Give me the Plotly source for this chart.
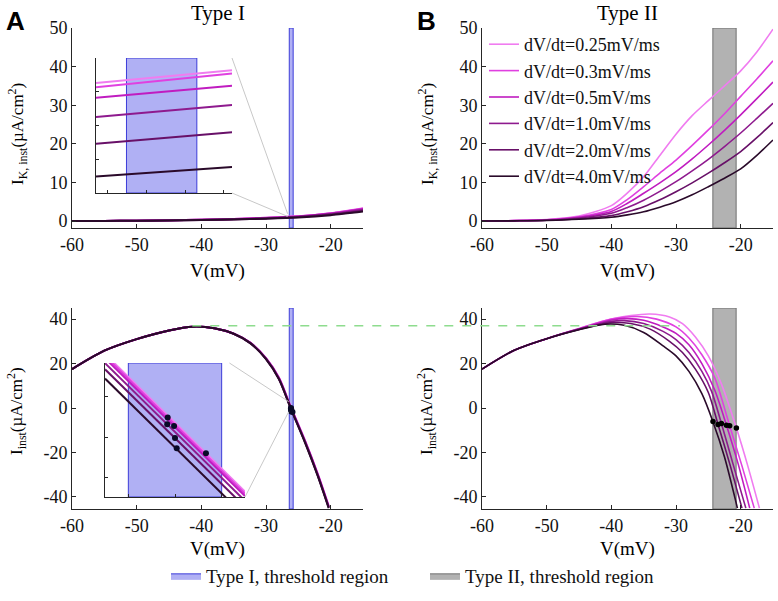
import plotly.graph_objects as go

# ---------------- data ----------------
rates = ["dV/dt=0.25mV/ms", "dV/dt=0.3mV/ms", "dV/dt=0.5mV/ms",
         "dV/dt=1.0mV/ms", "dV/dt=2.0mV/ms", "dV/dt=4.0mV/ms"]
colors = ["#f07cf0", "#e040e0", "#c01cc0", "#8e1a8e", "#681068", "#2a0a2a"]

# Type I, I_K,inst
V_k = [-60, -55, -50, -45, -40, -35, -30, -25, -20, -15]
IK_typeI = [
    [0.00, 0.04, 0.10, 0.20, 0.35, 0.55, 0.85, 1.25, 2.05, 3.35],
    [0.00, 0.04, 0.10, 0.20, 0.34, 0.54, 0.83, 1.22, 2.00, 3.25],
    [0.00, 0.04, 0.09, 0.19, 0.33, 0.52, 0.80, 1.18, 1.93, 3.10],
    [0.00, 0.03, 0.09, 0.18, 0.31, 0.49, 0.75, 1.12, 1.82, 2.92],
    [0.00, 0.03, 0.08, 0.16, 0.28, 0.45, 0.69, 1.03, 1.68, 2.70],
    [0.00, 0.03, 0.07, 0.14, 0.25, 0.40, 0.62, 0.93, 1.52, 2.45],
]
# Type I, I_K,inst inset (zoom near threshold)
V_insetK = [-26.66, -25.50]
IK_insetK = [
    [1.126, 1.164],
    [1.113, 1.154],
    [1.082, 1.118],
    [1.025, 1.061],
    [0.946, 0.980],
    [0.849, 0.877],
]

# Type II, I_K,inst
V_k2 = [-60, -55, -50, -45, -40, -37.5, -35, -32.5, -30, -27.5, -25, -22.5, -20, -17.5, -15]
IK_typeII = [
    [0, 0.10, 0.40, 1.30, 4.0, 7.3, 11.5, 17.0, 22.5, 27.3, 31.2, 35.0, 38.9, 43.8, 49.7],
    [0, 0.10, 0.35, 1.10, 3.0, 5.6, 8.9, 12.4, 15.8, 19.6, 23.6, 27.8, 32.3, 36.8, 41.5],
    [0, 0.10, 0.30, 1.00, 2.5, 4.6, 7.2, 9.9, 12.8, 16.1, 19.7, 23.5, 27.5, 31.7, 36.0],
    [0, 0.08, 0.25, 0.80, 2.0, 3.5, 5.4, 7.7, 10.2, 13.0, 16.0, 19.3, 22.8, 26.6, 30.5],
    [0, 0.06, 0.20, 0.60, 1.4, 2.4, 3.7, 5.5, 7.6, 9.9, 12.4, 15.1, 18.0, 21.6, 25.5],
    [0, 0.05, 0.15, 0.45, 1.0, 1.6, 2.4, 3.6, 5.0, 6.8, 8.9, 11.1, 13.5, 17.0, 21.0],
]

# Type I, I_inst
V_instI = [-60, -55, -50, -45, -41.3, -38, -35, -32.4, -30, -28, -26.2, -24, -22, -20.3]
Iinst_typeI = [
    [17.5, 25.8, 31.0, 34.9, 36.6, 35.9, 33.5, 29.4, 22.5, 13.7, 0.8, -14.3, -29.5, -44.0],
    [17.5, 25.8, 31.0, 34.9, 36.6, 35.9, 33.5, 29.3, 22.4, 13.6, 0.7, -14.5, -29.7, -44.2],
    [17.5, 25.8, 31.0, 34.9, 36.6, 35.9, 33.5, 29.3, 22.3, 13.4, 0.5, -14.7, -29.9, -44.4],
    [17.5, 25.8, 31.0, 34.9, 36.6, 35.9, 33.4, 29.2, 22.2, 13.3, 0.3, -14.9, -30.1, -44.6],
    [17.5, 25.8, 31.0, 34.9, 36.6, 35.9, 33.4, 29.2, 22.1, 13.1, 0.2, -15.1, -30.3, -44.8],
    [17.5, 25.8, 31.0, 34.9, 36.6, 35.9, 33.4, 29.1, 22.0, 13.0, 0.0, -15.3, -30.5, -45.0],
]
# Type I, I_inst inset
V_insetI = [-26.55, -25.65]
Iinst_insetI = [
    [3.12, -3.70],
    [3.03, -3.80],
    [2.91, -3.92],
    [2.66, -4.16],
    [2.36, -4.46],
    [1.90, -4.93],
]
thr_V_I = [-25.901, -26.147, -26.106, -26.15, -26.10, -26.089]
thr_I_I = [-1.80, -0.03, -0.45, -0.36, -1.05, -1.55]

# Type II, I_inst
V_instII = [
    [-60, -55, -50, -45, -40, -37, -34, -31, -29, -27, -25, -23, -20.66, -18.9, -17.1],
    [-60, -55, -50, -45, -40, -36, -33, -30, -28, -26, -24, -21.7, -19.8, -17.9],
    [-60, -55, -50, -45, -40, -37.5, -35, -32, -30, -28, -26, -24, -22.2, -20.4, -18.6],
    [-60, -55, -50, -45, -40, -38, -35, -32, -30, -28, -26, -24.5, -22.98, -21.2, -19.2],
    [-60, -55, -50, -45, -40, -37, -34, -31, -29, -27, -25, -23.5, -21.7, -19.8],
    [-60, -55, -50, -45, -41, -38, -35, -32, -30, -28, -26, -24.3, -22.5, -20.5],
]
Iinst_typeII = [
    [17.5, 26, 31.2, 35.8, 40.0, 41.6, 42.3, 41.0, 38.0, 32.0, 23.5, 11.0, -9.0, -26, -45],
    [17.5, 26, 31.2, 35.7, 40.0, 41.2, 40.0, 36.5, 31.5, 24.0, 13.5, -8.0, -26, -45],
    [17.5, 26, 31.2, 35.6, 39.6, 40.2, 39.5, 36.5, 33.6, 28.5, 20.0, 8.0, -7.7, -25, -45],
    [17.5, 26, 31.2, 35.5, 39.0, 39.3, 38.0, 34.5, 30.8, 25.0, 16.5, 7.5, -6.9, -25, -45],
    [17.5, 26, 31.2, 35.4, 38.4, 38.0, 35.5, 30.0, 25.0, 17.5, 7.0, -7.4, -25, -45],
    [17.5, 26, 31.2, 35.2, 37.7, 37.2, 34.0, 28.0, 23.5, 16.5, 6.5, -6.0, -22, -45],
]
thr_V_II = [-20.66, -21.7, -22.2, -22.98, -23.5, -24.28]
thr_I_II = [-9.0, -8.0, -7.7, -6.9, -7.4, -6.05]

band_typeI = [-26.4, -25.8]
band_typeII = [-24.3, -20.7]
peak_V_typeI = -41.4
peak_I_typeI = 37.0
dash_end_V_typeII = -29.4

x_ticks = [-60, -50, -40, -30, -20]
x_tick_labels = ["-60", "-50", "-40", "-30", "-20"]
yk_ticks = [0, 10, 20, 30, 40, 50]
yk_tick_labels = ["0", "10", "20", "30", "40", "50"]
yi_ticks = [-40, -20, 0, 20, 40]
yi_tick_labels = ["-40", "-20", "0", "20", "40"]

# ---------------- layout geometry ----------------
W, H = 778, 601
def dx(a, b): return [a / W, b / W]
def dy(top, bottom): return [1 - bottom / H, 1 - top / H]

xr_main = [-60, -15]
yr_k = [-1.8, 50]
yr_i = [-45.4, 45]
xr_in1 = [-26.66, -25.50]
yr_in1 = [0.8, 1.2]
xr_in2 = [-26.55, -25.65]
yr_in2 = [-3.97, 2.67]

dom = {
    1: (dx(72, 363), dy(28, 228)),
    2: (dx(482, 773), dy(28, 228)),
    3: (dx(72, 363), dy(308, 509)),
    4: (dx(482, 773), dy(308, 509)),
    5: (dx(96, 232), dy(58, 193)),
    6: (dx(105, 245), dy(363, 497)),
}
rng = {1: (xr_main, yr_k), 2: (xr_main, yr_k), 3: (xr_main, yr_i), 4: (xr_main, yr_i),
       5: (xr_in1, yr_in1), 6: (xr_in2, yr_in2)}

def to_paper_x(k, v):
    d, r = dom[k][0], rng[k][0]
    return d[0] + (v - r[0]) / (r[1] - r[0]) * (d[1] - d[0])

def to_paper_y(k, v):
    d, r = dom[k][1], rng[k][1]
    return d[0] + (v - r[0]) / (r[1] - r[0]) * (d[1] - d[0])

FONT = "Liberation Serif, Times New Roman, serif"
fig = go.Figure()

def ax(k):
    return ("x" if k == 1 else f"x{k}"), ("y" if k == 1 else f"y{k}")

# ---------------- bands ----------------
BLUE_FILL = "#b0b0f4"
BLUE_LINE = "#3c3cd8"
GRAY_FILL = "#b2b2b2"
GRAY_LINE = "#707070"

def band(k, b, yr, fill, line, name, show):
    xa, ya = ax(k)
    fig.add_trace(go.Scatter(
        x=[b[0], b[1], b[1], b[0], b[0]], y=[yr[0], yr[0], yr[1], yr[1], yr[0]],
        xaxis=xa, yaxis=ya, mode="lines", fill="toself", fillcolor=fill,
        line=dict(color=line, width=1), name=name, legendgroup=name,
        showlegend=show, legend="legend2", hoverinfo="skip"))

band(1, band_typeI, yr_k, BLUE_FILL, BLUE_LINE, "Type I, threshold region", True)
band(3, band_typeI, yr_i, BLUE_FILL, BLUE_LINE, "Type I, threshold region", False)
band(5, band_typeI, yr_in1, BLUE_FILL, BLUE_LINE, "Type I, threshold region", False)
band(6, band_typeI, yr_in2, BLUE_FILL, BLUE_LINE, "Type I, threshold region", False)
band(2, band_typeII, yr_k, GRAY_FILL, GRAY_LINE, "Type II, threshold region", True)
band(4, band_typeII, yr_i, GRAY_FILL, GRAY_LINE, "Type II, threshold region", False)

# ---------------- curves ----------------
for i in range(6):
    fig.add_trace(go.Scatter(x=V_k2, y=IK_typeII[i], xaxis="x2", yaxis="y2", mode="lines",
                             line=dict(color=colors[i], width=1.6, shape="spline", smoothing=0.8),
                             name=rates[i], legend="legend"))
for i in range(6):
    fig.add_trace(go.Scatter(x=V_k, y=IK_typeI[i], xaxis="x", yaxis="y", mode="lines",
                             line=dict(color=colors[i], width=2, shape="spline", smoothing=0.8),
                             showlegend=False))
    fig.add_trace(go.Scatter(x=V_insetK, y=IK_insetK[i], xaxis="x5", yaxis="y5", mode="lines",
                             line=dict(color=colors[i], width=2), showlegend=False))
    fig.add_trace(go.Scatter(x=V_instI, y=Iinst_typeI[i], xaxis="x3", yaxis="y3", mode="lines",
                             line=dict(color=colors[i], width=2, shape="spline", smoothing=0.8),
                             showlegend=False))
    fig.add_trace(go.Scatter(x=V_insetI, y=Iinst_insetI[i], xaxis="x6", yaxis="y6", mode="lines",
                             line=dict(color=colors[i], width=2), showlegend=False))
    fig.add_trace(go.Scatter(x=V_instII[i], y=Iinst_typeII[i], xaxis="x4", yaxis="y4", mode="lines",
                             line=dict(color=colors[i], width=1.6, shape="spline", smoothing=0.8),
                             showlegend=False))

# threshold dots
fig.add_trace(go.Scatter(x=thr_V_I, y=thr_I_I, xaxis="x3", yaxis="y3", mode="markers",
                         marker=dict(color="#0a0a28", size=6), showlegend=False))
fig.add_trace(go.Scatter(x=thr_V_I, y=thr_I_I, xaxis="x6", yaxis="y6", mode="markers",
                         marker=dict(color="#0a0a28", size=6), showlegend=False))
fig.add_trace(go.Scatter(x=thr_V_II, y=thr_I_II, xaxis="x4", yaxis="y4", mode="markers",
                         marker=dict(color="#000000", size=5.5), showlegend=False))

# ---------------- axes ----------------
AXC = "#262626"
def style_axis(k, xr, yr, main=True):
    common = dict(showline=True, linecolor=AXC, linewidth=1, ticks="inside",
                  ticklen=4 if main else 3, tickcolor=AXC, showgrid=False, zeroline=False,
                  mirror=False, tickfont=dict(family=FONT, size=18, color="#111"),
                  showticklabels=main, fixedrange=True, automargin=False)
    xa = "xaxis" if k == 1 else f"xaxis{k}"
    ya = "yaxis" if k == 1 else f"yaxis{k}"
    xref, yref = ax(k)
    fig.update_layout(**{
        xa: dict(domain=dom[k][0], range=xr, anchor=yref, **common),
        ya: dict(domain=dom[k][1], range=yr, anchor=xref, **common),
    })

style_axis(1, xr_main, yr_k)
style_axis(2, xr_main, yr_k)
style_axis(3, xr_main, yr_i)
style_axis(4, xr_main, yr_i)
style_axis(5, xr_in1, yr_in1, main=False)
style_axis(6, xr_in2, yr_in2, main=False)
for k in (1, 2, 3, 4):
    xa = "xaxis" if k == 1 else f"xaxis{k}"
    ya = "yaxis" if k == 1 else f"yaxis{k}"
    fig.layout[xa].tickvals = x_ticks
    fig.layout[xa].ticktext = x_tick_labels
    if k in (1, 2):
        fig.layout[ya].tickvals = yk_ticks
        fig.layout[ya].ticktext = yk_tick_labels
    else:
        fig.layout[ya].tickvals = yi_ticks
        fig.layout[ya].ticktext = yi_tick_labels
fig.layout.xaxis5.dtick = 0.33
fig.layout.xaxis5.tick0 = -26.56
fig.layout.yaxis5.dtick = 0.1
fig.layout.xaxis6.dtick = 0.3
fig.layout.yaxis6.tick0 = -3
fig.layout.yaxis6.dtick = 2

# ---------------- shapes: connectors & dashed line ----------------
shapes = []
CONN = "#c8c8c8"
shapes.append(dict(type="line", xref="paper", yref="paper",
                   x0=to_paper_x(5, xr_in1[1]), y0=to_paper_y(5, yr_in1[1]),
                   x1=to_paper_x(1, xr_in1[0]), y1=to_paper_y(1, 1.9),
                   line=dict(color=CONN, width=1)))
shapes.append(dict(type="line", xref="paper", yref="paper",
                   x0=to_paper_x(5, xr_in1[1]), y0=to_paper_y(5, yr_in1[0]),
                   x1=to_paper_x(1, xr_in1[0]), y1=to_paper_y(1, 1.2),
                   line=dict(color=CONN, width=1)))
shapes.append(dict(type="line", xref="paper", yref="paper",
                   x0=to_paper_x(6, -25.75), y0=to_paper_y(6, yr_in2[1]),
                   x1=to_paper_x(3, -26.5), y1=to_paper_y(3, 2.9),
                   line=dict(color=CONN, width=1)))
shapes.append(dict(type="line", xref="paper", yref="paper",
                   x0=to_paper_x(6, xr_in2[1]), y0=to_paper_y(6, yr_in2[0]),
                   x1=to_paper_x(3, -26.5), y1=to_paper_y(3, -1.7),
                   line=dict(color=CONN, width=1)))
shapes.append(dict(type="line", xref="paper", yref="paper",
                   x0=to_paper_x(3, peak_V_typeI), y0=to_paper_y(3, peak_I_typeI),
                   x1=to_paper_x(4, dash_end_V_typeII), y1=to_paper_y(4, peak_I_typeI),
                   line=dict(color="#8edc8e", width=1.5, dash="dash")))

# ---------------- annotations ----------------
ann = []
def px_ann(text, x, y, size=18, angle=0, family=FONT, bold=False):
    t = f"<b>{text}</b>" if bold else text
    ann.append(dict(text=t, x=x / W, y=1 - y / H, xref="paper", yref="paper",
                    showarrow=False, textangle=angle, xanchor="center", yanchor="middle",
                    font=dict(family=family, size=size, color="#000")))

px_ann("A", 15, 21, size=26, family="Liberation Sans, Arial, sans-serif", bold=True)
px_ann("B", 426, 21, size=26, family="Liberation Sans, Arial, sans-serif", bold=True)
px_ann("Type I", 217.5, 13, size=21)
px_ann("Type II", 627.5, 13, size=21)
yk_title = "I<sub>K, inst</sub>(µA/cm<sup>2</sup>)"
yi_title = "I<sub>inst</sub>(µA/cm<sup>2</sup>)"
px_ann(yk_title, 17, 134, size=17, angle=-90)
px_ann(yk_title, 427, 134, size=17, angle=-90)
px_ann(yi_title, 17, 411, size=17, angle=-90)
px_ann(yi_title, 427, 411, size=17, angle=-90)
px_ann("V(mV)", 217.5, 271, size=19)
px_ann("V(mV)", 627.5, 271, size=19)
px_ann("V(mV)", 217.5, 549, size=19)
px_ann("V(mV)", 627.5, 549, size=19)

fig.update_layout(
    width=W, height=H, margin=dict(l=0, r=0, t=0, b=0, pad=0, autoexpand=False),
    paper_bgcolor="white", plot_bgcolor="rgba(0,0,0,0)",
    font=dict(family=FONT, size=18, color="#111"),
    shapes=shapes, annotations=ann,
    legend=dict(x=484 / W, y=1 - 26 / H, xanchor="left", yanchor="top",
                bgcolor="rgba(0,0,0,0)", font=dict(family=FONT, size=18, color="#111"),
                tracegroupgap=0, itemwidth=30),
    legend2=dict(orientation="h", x=166 / W, y=1 - 576 / H, xanchor="left", yanchor="middle",
                 bgcolor="rgba(0,0,0,0)", font=dict(family=FONT, size=19, color="#111"),
                 entrywidth=214, entrywidthmode="pixels"),
    showlegend=True,
)

fig.write_html("out.html", config={"displayModeBar": False},
               post_script="document.body.style.margin='0px';")
